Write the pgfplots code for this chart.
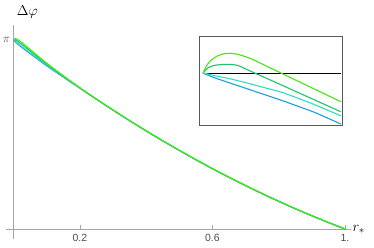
\documentclass[border=0pt]{standalone}
\usepackage{fontspec}
\setmainfont{Liberation Sans}
\usepackage{pgfplots}
\pgfplotsset{compat=1.18}
\definecolor{gA}{HTML}{48E512}
\definecolor{gB}{HTML}{1FC46A}
\definecolor{tq}{HTML}{2EE0C0}
\definecolor{bl}{HTML}{1A9FE0}
\begin{document}
\begin{tikzpicture}
\useasboundingbox (0,0) rectangle (374bp,248bp);
\begin{axis}[at={(6bp,9bp)}, anchor=south west, scale only axis,
  width=345bp, height=214bp,
  xmin=-0.0226, xmax=1.018, ymin=-0.1662, ymax=3.391,
  axis lines=middle,
  axis line style={-, black!35, line width=0.6bp},
  every inner x axis line/.append style={-},
  every inner y axis line/.append style={-},
  xtick={0.2,0.6,1}, xticklabels={0.2,0.6,1.},
  ytick={3.14159}, yticklabels={$\pi$},
  tick style={black!35, line width=0.5bp},
  major tick length=4bp, tick align=inside,
  ticklabel style={font=\fontsize{10.5}{12}\selectfont, text=black!70},
  yticklabel style={font=\fontsize{12}{12}\selectfont},
  xticklabel style={yshift=-1.5bp},
  /pgf/number format/assume math mode=true,
  clip=false, no markers]
\addplot[bl, line width=1.1bp, smooth] coordinates {(0,3.1416) (0.006,3.108) (0.02,3.04) (0.05,2.915) (0.1,2.712) (0.15,2.525) (0.2,2.342) (0.25,2.158) (0.3,1.977) (0.35,1.801) (0.4,1.631) (0.45,1.466) (0.5,1.307) (0.55,1.152) (0.6,1.003) (0.65,0.859) (0.7,0.721) (0.75,0.588) (0.8,0.460) (0.85,0.337) (0.9,0.220) (0.95,0.108) (1,0)};
\addplot[tq, line width=1.1bp, smooth] coordinates {(0,3.1416) (0.006,3.12) (0.02,3.055) (0.05,2.93) (0.1,2.725) (0.15,2.53) (0.2,2.343) (0.25,2.158) (0.3,1.977) (0.35,1.801) (0.4,1.631) (0.45,1.466) (0.5,1.307) (0.55,1.152) (0.6,1.003) (0.65,0.859) (0.7,0.721) (0.75,0.588) (0.8,0.460) (0.85,0.337) (0.9,0.220) (0.95,0.108) (1,0)};
\addplot[gB, line width=1.1bp, smooth] coordinates {(0,3.1416) (0.006,3.145) (0.02,3.09) (0.05,2.96) (0.1,2.742) (0.15,2.54) (0.2,2.345) (0.25,2.158) (0.3,1.977) (0.35,1.801) (0.4,1.631) (0.45,1.466) (0.5,1.307) (0.55,1.152) (0.6,1.003) (0.65,0.859) (0.7,0.721) (0.75,0.588) (0.8,0.460) (0.85,0.337) (0.9,0.220) (0.95,0.108) (1,0)};
\addplot[gA, line width=1.1bp, smooth] coordinates {(0,3.1416) (0.006,3.165) (0.02,3.12) (0.05,2.985) (0.1,2.755) (0.15,2.548) (0.2,2.348) (0.25,2.158) (0.3,1.977) (0.35,1.801) (0.4,1.631) (0.45,1.466) (0.5,1.307) (0.55,1.152) (0.6,1.003) (0.65,0.859) (0.7,0.721) (0.75,0.588) (0.8,0.460) (0.85,0.337) (0.9,0.220) (0.95,0.108) (1,0)};
\node[font=\fontsize{15}{15}\selectfont] at (axis cs:0.042,3.6) {$\Delta\varphi$};
\node[anchor=base west, font=\fontsize{15}{15}\selectfont] at (axis cs:1.012,-0.035) {$r_*$};
\end{axis}
\begin{axis}[at={(199bp,122.3bp)}, anchor=south west, scale only axis,
  width=143.7bp, height=89.7bp,
  xmin=-0.029, xmax=1.0145, ymin=-52.4, ymax=37.3,
  ticks=none, axis line style={black!65, line width=0.8bp},
  axis background/.style={fill=white}, no markers]
\addplot[black, line width=0.8bp] coordinates {(0,0) (1,0)};
\addplot[bl, line width=1.1bp, smooth] coordinates {(0,0) (0.02,-1) (0.05,-2.7) (0.1,-5.2) (0.18,-9) (0.3,-14.5) (0.45,-21.5) (0.57,-27) (0.7,-33.5) (0.8,-38.5) (0.9,-44.5) (1,-50.7)};
\addplot[tq, line width=1.1bp, smooth] coordinates {(0,0) (0.02,-0.3) (0.05,-1.2) (0.1,-2.8) (0.18,-5) (0.3,-9) (0.45,-14.5) (0.57,-19) (0.7,-25.5) (0.8,-30.8) (0.9,-36.6) (1,-42.4)};
\addplot[gB, line width=1.1bp, smooth] coordinates {(0,0) (0.02,3.5) (0.05,6.5) (0.1,8.3) (0.19,9) (0.25,8) (0.3,5) (0.38,0) (0.5,-7.4) (0.6,-13.6) (0.7,-19.8) (0.8,-26) (0.9,-32.2) (1,-38.4)};
\addplot[gA, line width=1.1bp, smooth] coordinates {(0,0) (0.02,6) (0.05,12) (0.1,17) (0.15,19.5) (0.2,20) (0.25,19) (0.3,17) (0.35,14.5) (0.4,11.2) (0.5,4.6) (0.57,0) (0.65,-5.3) (0.75,-11.9) (0.85,-18.5) (1,-28.4)};
\end{axis}
\end{tikzpicture}
\end{document}
